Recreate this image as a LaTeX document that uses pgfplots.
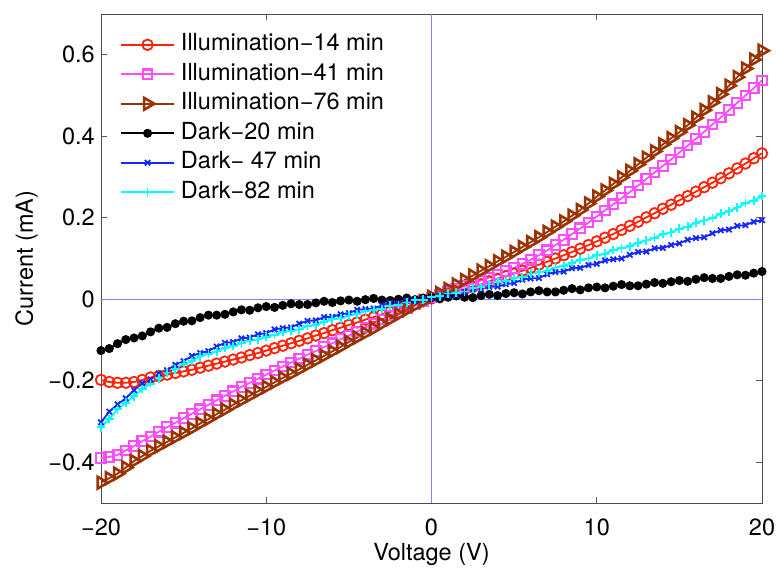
\documentclass[border=0pt]{standalone}
\usepackage{fontspec}
\setmainfont{TeX Gyre Heros}
\usepackage{pgfplots}
\usepackage{pgfplotstable}
\pgfplotsset{compat=1.18}

\definecolor{cIa}{RGB}{255,35,10}
\definecolor{cIb}{RGB}{255,77,255}
\definecolor{cIc}{RGB}{153,51,0}
\definecolor{cDa}{RGB}{0,0,0}
\definecolor{cDb}{RGB}{20,40,255}
\definecolor{cDc}{RGB}{0,255,255}
\definecolor{refblue}{RGB}{130,130,255}

% V (V) | Illumination 14, 41, 76 min | Dark 20, 47, 82 min  (currents in mA)
\pgfplotstableread{
V     I14    I41    I76    D20    D47    D82
-20   -0.198 -0.390 -0.450 -0.126 -0.302 -0.314
-19.5 -0.203 -0.387 -0.439 -0.121 -0.276 -0.294
-19   -0.205 -0.382 -0.428 -0.109 -0.258 -0.270
-18.5 -0.205 -0.371 -0.413 -0.099 -0.243 -0.254
-18   -0.203 -0.360 -0.397 -0.095 -0.223 -0.238
-17.5 -0.198 -0.348 -0.385 -0.090 -0.206 -0.220
-17   -0.192 -0.337 -0.372 -0.080 -0.197 -0.208
-16.5 -0.189 -0.325 -0.361 -0.071 -0.182 -0.194
-16   -0.185 -0.314 -0.350 -0.069 -0.174 -0.180
-15.5 -0.181 -0.303 -0.339 -0.060 -0.161 -0.172
-15   -0.177 -0.292 -0.328 -0.054 -0.152 -0.159
-14.5 -0.173 -0.281 -0.317 -0.053 -0.139 -0.152
-14   -0.168 -0.270 -0.305 -0.045 -0.132 -0.140
-13.5 -0.163 -0.259 -0.294 -0.039 -0.127 -0.134
-13   -0.158 -0.248 -0.282 -0.039 -0.116 -0.128
-12.5 -0.153 -0.237 -0.271 -0.037 -0.107 -0.119
-12   -0.148 -0.226 -0.259 -0.031 -0.105 -0.115
-11.5 -0.143 -0.215 -0.248 -0.026 -0.096 -0.108
-11   -0.137 -0.205 -0.237 -0.027 -0.094 -0.101
-10.5 -0.132 -0.195 -0.226 -0.021 -0.086 -0.099
-10   -0.126 -0.185 -0.215 -0.018 -0.083 -0.092
-9.5  -0.120 -0.175 -0.204 -0.020 -0.074 -0.088
-9    -0.114 -0.165 -0.193 -0.015 -0.071 -0.080
-8.5  -0.108 -0.155 -0.183 -0.011 -0.069 -0.077
-8    -0.102 -0.146 -0.172 -0.013 -0.060 -0.074
-7.5  -0.096 -0.136 -0.161 -0.013 -0.053 -0.066
-7    -0.089 -0.127 -0.150 -0.009 -0.052 -0.063
-6.5  -0.083 -0.117 -0.139 -0.005 -0.044 -0.056
-6    -0.076 -0.108 -0.128 -0.008 -0.043 -0.049
-5.5  -0.070 -0.098 -0.117 -0.004 -0.037 -0.047
-5    -0.063 -0.089 -0.105 -0.002 -0.034 -0.040
-4.5  -0.057 -0.079 -0.094 -0.005 -0.026 -0.037
-4    -0.050 -0.069 -0.083 -0.001 -0.024 -0.029
-3.5  -0.044 -0.060 -0.072  0.002 -0.023 -0.026
-3    -0.037 -0.050 -0.060 -0.002 -0.015 -0.024
-2.5  -0.031 -0.040 -0.049 -0.003 -0.009 -0.016
-2    -0.024 -0.031 -0.037  0.000 -0.010 -0.014
-1.5  -0.018 -0.022 -0.026  0.003 -0.003 -0.008
-1    -0.011 -0.013 -0.015 -0.001 -0.004 -0.002
-0.5  -0.005 -0.004 -0.005  0.003  0.001 -0.001
0      0.002  0.004  0.006  0.004  0.002  0.005
0.5    0.008  0.011  0.015  0.001  0.009  0.007
1      0.013  0.018  0.025  0.005  0.010  0.014
1.5    0.019  0.025  0.036  0.008  0.010  0.016
2      0.025  0.032  0.047  0.005  0.018  0.019
2.5    0.031  0.039  0.058  0.004  0.024  0.027
3      0.037  0.046  0.070  0.009  0.024  0.030
3.5    0.044  0.053  0.081  0.012  0.031  0.036
4      0.050  0.061  0.093  0.009  0.031  0.043
4.5    0.057  0.069  0.104  0.014  0.037  0.045
5      0.063  0.077  0.116  0.016  0.040  0.052
5.5    0.070  0.087  0.128  0.013  0.048  0.055
6      0.077  0.097  0.140  0.018  0.051  0.063
6.5    0.085  0.108  0.152  0.021  0.052  0.066
7      0.092  0.120  0.165  0.018  0.061  0.070
7.5    0.100  0.133  0.178  0.018  0.067  0.078
8      0.108  0.146  0.191  0.022  0.068  0.082
8.5    0.116  0.160  0.205  0.026  0.076  0.089
9      0.124  0.174  0.219  0.023  0.077  0.097
9.5    0.133  0.188  0.235  0.028  0.084  0.100
10     0.142  0.203  0.252  0.030  0.087  0.108
10.5   0.151  0.218  0.267  0.028  0.095  0.112
11     0.160  0.233  0.283  0.032  0.098  0.121
11.5   0.170  0.248  0.299  0.036  0.100  0.125
12     0.180  0.263  0.315  0.033  0.109  0.130
12.5   0.190  0.279  0.331  0.033  0.116  0.139
13     0.201  0.295  0.347  0.037  0.117  0.144
13.5   0.211  0.311  0.363  0.041  0.125  0.151
14     0.222  0.327  0.380  0.039  0.126  0.160
14.5   0.232  0.343  0.395  0.043  0.133  0.164
15     0.243  0.360  0.410  0.046  0.137  0.173
15.5   0.253  0.377  0.427  0.044  0.146  0.178
16     0.264  0.394  0.445  0.049  0.150  0.188
16.5   0.275  0.411  0.464  0.053  0.152  0.193
17     0.286  0.429  0.483  0.051  0.162  0.199
17.5   0.297  0.446  0.503  0.051  0.169  0.210
18     0.309  0.464  0.524  0.056  0.171  0.216
18.5   0.321  0.482  0.545  0.060  0.180  0.225
19     0.333  0.500  0.566  0.059  0.182  0.236
19.5   0.346  0.518  0.588  0.064  0.190  0.242
20     0.358  0.537  0.610  0.068  0.194  0.253
}\ivdata

\begin{document}
\begin{tikzpicture}
\path[use as bounding box] (0,0) rectangle (776bp,568bp);
\begin{axis}[
  at={(101bp,65bp)}, anchor=south west,
  scale only axis, width=661bp, height=489bp,
  font=\fontsize{23.5bp}{28bp}\selectfont,
  xmin=-20, xmax=20, ymin=-0.5, ymax=0.7,
  xtick={-20,-10,0,10,20},
  xticklabels={−20,−10,0,10,20},
  ytick={-0.4,-0.2,0,0.2,0.4,0.6},
  yticklabels={−0.4,−0.2,0,0.2,0.4,0.6},
  tick align=inside,
  major tick length=6bp,
  tick style={black!65, line width=0.8bp},
  axis line style={black!70, line width=0.8bp},
  xticklabel style={anchor=base, inner sep=0pt, yshift=-32bp},
  yticklabel style={anchor=east, inner sep=0pt, xshift=-6bp},
  xlabel={Voltage (V)},
  ylabel={Current (mA)},
  xlabel style={at={(axis description cs:0.5,-0.1166)}, anchor=base},
  ylabel style={at={(axis description cs:-0.1029,0.5)}, anchor=base},
  legend cell align=left,
  legend style={
    at={(axis description cs:0.0287,0.964)}, anchor=north west,
    draw=none, fill=none, inner sep=0pt, row sep=3.5bp,
    nodes={inner sep=2bp, text height=17bp, text depth=5bp},
    /tikz/every odd column/.append style={column sep=4bp},
  },
  legend image code/.code={%
    \draw[mark repeat=2, mark phase=2, #1]
      plot coordinates {(0bp,0bp) (26.5bp,0bp) (53bp,0bp)};},
  every axis plot/.append style={line width=1.8bp},
]
% reference lines through the origin
\draw[draw={rgb,255:red,130;green,130;blue,255}, line width=1.2bp]
  (axis cs:-20,0) -- (axis cs:20,0)
  (axis cs:0,-0.5) -- (axis cs:0,0.7);

\addplot[cIa, mark=o, mark size=5.3bp, mark options={solid, fill=none}]
  table[x=V, y=I14] {\ivdata};
\addlegendentry{Illumination−14 min}
\addplot[cIb, mark=square, mark size=4.8bp, mark options={solid, fill=none, line width=2.1bp}]
  table[x=V, y=I41] {\ivdata};
\addlegendentry{Illumination−41 min}
\addplot[cIc, mark=triangle, mark size=6.8bp, mark options={solid, fill=none, rotate=-90, line width=2.6bp}]
  table[x=V, y=I76] {\ivdata};
\addlegendentry{Illumination−76 min}
\addplot[cDa, mark=*, mark size=3.6bp, mark options={solid}]
  table[x=V, y=D20] {\ivdata};
\addlegendentry{Dark−20 min}
\addplot[cDb, mark=x, mark size=3.8bp, mark options={solid}]
  table[x=V, y=D47] {\ivdata};
\addlegendentry{Dark− 47 min}
\addplot[cDc, mark=+, mark size=4.3bp, mark options={solid}]
  table[x=V, y=D82] {\ivdata};
\addlegendentry{Dark−82 min}
\end{axis}
\end{tikzpicture}
\end{document}
